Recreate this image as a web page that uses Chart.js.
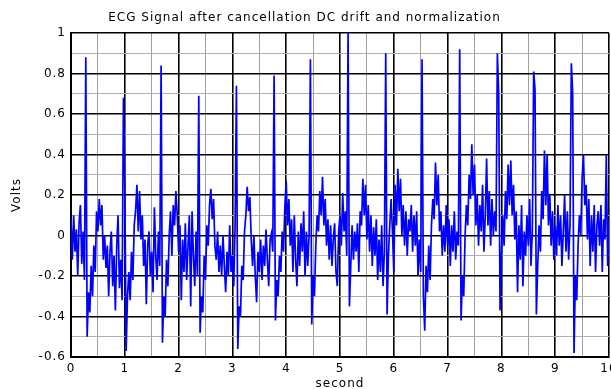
<!DOCTYPE html>
<html>
<head>
<meta charset="utf-8">
<script src="https://cdn.jsdelivr.net/npm/chart.js@4.4.0/dist/chart.umd.min.js"></script>
<style>
  html, body { margin: 0; padding: 0; background: #fff; }
  canvas { display: block; }
</style>
</head>
<body>
<canvas id="ecg-chart" width="611" height="389"></canvas>
<script>
// samples, 40 per second
const sampleRate = 40;

const sec0 = [0.08, -0.12, 0.10, -0.08, 0.03, -0.20, 0.06, 0.15, -0.14, 0.02,
  -0.22, 0.88, -0.50, -0.28, -0.38, -0.15, -0.30, -0.05, -0.18, 0.12,
  0.02, 0.18, 0.05, 0.15, -0.12, 0.00, -0.16, -0.05, -0.30, -0.08,
  0.02, -0.25, -0.10, -0.37, -0.05, 0.10, -0.26, -0.12, -0.32, 0.68];
const sec1 = [0.25, -0.57, -0.30, -0.18, -0.32, -0.08, -0.22, 0.05, 0.12, 0.25,
  0.02, 0.22, -0.02, 0.10, -0.15, -0.02, -0.34, -0.05, 0.02, -0.20,
  -0.08, -0.28, 0.14, -0.10, -0.22, 0.02, -0.15, 0.84, -0.53, -0.30,
  -0.40, -0.12, -0.25, 0.00, 0.12, -0.10, 0.15, 0.05, 0.22, 0.10];
const sec2 = [-0.08, 0.05, -0.32, -0.02, -0.18, 0.06, -0.22, -0.05, 0.10, -0.35,
  0.12, -0.10, -0.25, 0.02, -0.20, 0.69, -0.48, -0.30, -0.38, -0.10,
  -0.22, 0.05, -0.05, 0.15, 0.23, 0.08, 0.18, -0.05, -0.12, 0.02,
  -0.18, -0.05, -0.20, 0.00, -0.15, -0.28, -0.08, -0.20, 0.05, -0.18];
const sec3 = [-0.10, -0.25, 0.05, 0.74, -0.56, -0.35, -0.40, -0.15, -0.22, 0.02,
  0.10, 0.24, 0.12, 0.19, -0.02, -0.15, 0.00, -0.20, -0.33, -0.08,
  -0.18, -0.02, -0.22, -0.05, -0.15, 0.03, -0.12, -0.25, -0.02, 0.01,
  -0.08, 0.79, -0.42, -0.22, -0.30, -0.10, -0.18, 0.02, -0.08, 0.14];
const sec4 = [0.27, 0.05, 0.18, -0.05, 0.08, -0.18, 0.10, -0.12, -0.25, 0.02,
  -0.15, 0.06, -0.08, 0.12, -0.20, 0.02, -0.15, 0.00, 0.87, -0.44,
  -0.20, -0.30, -0.05, 0.10, 0.02, 0.22, 0.10, 0.29, 0.05, 0.18,
  -0.05, 0.08, -0.12, 0.05, -0.15, -0.02, 0.06, -0.18, -0.25, 0.02];
const sec5 = [0.10, -0.05, 0.21, 0.02, 0.12, -0.10, 1.00, -0.35, -0.15, 0.05,
  -0.12, 0.02, -0.08, 0.06, -0.18, 0.12, 0.05, 0.28, 0.10, 0.25,
  -0.02, 0.15, -0.08, 0.10, -0.15, 0.04, -0.10, 0.08, -0.22, -0.02,
  -0.18, 0.05, -0.25, -0.08, 0.90, -0.39, -0.10, 0.05, 0.18, 0.02];
const sec6 = [-0.18, 0.25, 0.05, 0.33, 0.12, 0.28, 0.00, 0.15, -0.05, 0.12,
  -0.10, 0.08, 0.02, 0.15, -0.08, 0.10, -0.05, 0.12, -0.20, -0.02,
  -0.18, 0.87, -0.30, -0.47, -0.15, -0.28, -0.05, -0.22, 0.05, 0.18,
  0.08, 0.36, 0.15, 0.30, 0.02, 0.12, -0.10, 0.05, -0.08, 0.15];
const sec7 = [-0.05, 0.08, -0.15, 0.05, -0.08, 0.12, -0.12, 0.02, -0.05, 0.92,
  -0.42, -0.20, -0.30, 0.00, 0.15, 0.05, 0.30, 0.18, 0.45, 0.20,
  0.35, 0.05, 0.20, -0.05, 0.15, 0.02, 0.25, -0.08, 0.10, 0.38,
  0.05, 0.22, -0.05, 0.18, 0.00, 0.12, 0.02, 0.90, 0.70, -0.37];
const sec8 = [-0.10, 0.10, -0.05, 0.22, 0.08, 0.35, 0.15, 0.37, 0.10, 0.25,
  -0.02, 0.12, -0.28, 0.05, -0.12, 0.15, -0.25, 0.02, -0.10, 0.10,
  -0.05, 0.18, -0.15, 0.02, 0.81, 0.72, -0.39, -0.15, 0.05, -0.08,
  0.22, 0.08, 0.42, 0.15, 0.40, 0.05, 0.20, -0.05, 0.12, -0.12];
const sec9 = [0.05, -0.10, 0.15, -0.05, 0.10, -0.15, 0.02, 0.20, -0.08, 0.12,
  -0.12, 0.05, 0.85, 0.70, -0.58, -0.20, -0.32, -0.05, 0.10, 0.00,
  0.28, 0.40, 0.15, 0.25, -0.02, 0.18, -0.15, 0.10, -0.08, 0.15,
  -0.18, 0.05, 0.12, -0.05, 0.15, -0.18, 0.08, -0.02, 0.40, -0.15];
const lastSample = [0.08];

const xTickLabels = ['0', '1', '2', '3', '4', '5', '6', '7', '8', '9', '10'];
const yTickLabels = ['-0.6', '-0.4', '-0.2', '0', '0.2', '0.4', '0.6', '0.8', '1'];

const volts = [].concat(sec0, sec1, sec2, sec3, sec4, sec5, sec6, sec7, sec8, sec9, lastSample);
const points = volts.map((v, i) => ({ x: i / sampleRate, y: v }));

const FONT = 'DejaVu Sans';

// find the label that belongs to a tick value, '' for minor ticks
const labelFor = (labels, value) => {
  const hit = labels.find(l => Math.abs(Number(l) - value) < 1e-6);
  return hit === undefined ? '' : hit;
};
const majorX = c => c.tick && labelFor(xTickLabels, c.tick.value) !== '';
const majorY = c => c.tick && labelFor(yTickLabels, c.tick.value) !== '';

// the original figure text is a bit wide, spread the letters a little
const wideText = {
  id: 'wideText',
  beforeUpdate(chart) { chart.ctx.letterSpacing = '1px'; },
  beforeDraw(chart) { chart.ctx.letterSpacing = '1px'; }
};

new Chart(document.getElementById('ecg-chart'), {
  type: 'line',
  data: {
    datasets: [{
      data: points,
      borderColor: '#0000ff',
      borderWidth: 1.7,
      borderJoinStyle: 'miter',
      pointRadius: 0,
      tension: 0,
      fill: false
    }]
  },
  options: {
    responsive: false,
    animation: false,
    layout: { padding: { left: 0, right: 2, top: 0, bottom: 0 } },
    plugins: {
      legend: { display: false },
      tooltip: { enabled: false },
      title: {
        display: true,
        text: 'ECG Signal after cancellation DC drift and normalization',
        color: '#000',
        font: { family: FONT, size: 12, weight: 'normal' },
        padding: { top: 11, bottom: 7.6 }
      }
    },
    scales: {
      x: {
        type: 'linear',
        min: 0,
        max: 10,
        afterFit(scale) {
          scale.height = 32;
          scale.paddingLeft = 0;
          scale.paddingRight = 0;
        },
        ticks: {
          stepSize: 0.5,
          autoSkip: false,
          maxRotation: 0,
          padding: 5,
          color: '#000',
          font: { family: FONT, size: 12 },
          callback: v => labelFor(xTickLabels, v)
        },
        grid: {
          drawTicks: false,
          color: c => majorX(c) ? '#000' : '#a0a0a0',
          lineWidth: c => majorX(c) ? 1.6 : 1
        },
        border: { display: true, color: '#000', width: 2 },
        title: {
          display: true,
          text: 'second',
          color: '#000',
          font: { family: FONT, size: 12 },
          padding: { top: 0, bottom: -2 }
        }
      },
      y: {
        min: -0.6,
        max: 1,
        afterFit(scale) { scale.width = 71; },
        ticks: {
          stepSize: 0.1,
          autoSkip: false,
          padding: 5,
          color: '#000',
          font: { family: FONT, size: 12 },
          callback: v => labelFor(yTickLabels, v)
        },
        grid: {
          drawTicks: false,
          color: c => majorY(c) ? '#000' : '#b0b0b0',
          lineWidth: c => majorY(c) ? 1.6 : 1
        },
        border: { display: true, color: '#000', width: 2 },
        title: {
          display: true,
          text: 'Volts',
          color: '#000',
          font: { family: FONT, size: 12 },
          padding: { top: 10, bottom: 0 }
        }
      }
    }
  },
  plugins: [wideText]
});
</script>
</body>
</html>
